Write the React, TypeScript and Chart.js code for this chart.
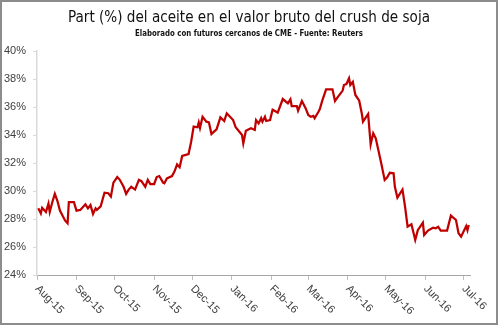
import React, { useEffect, useRef } from "react";
import { Chart, registerables } from "chart.js";

Chart.register(...registerables);

const titleText = "Part (%) del aceite en el valor bruto del crush de soja";
const subtitleText = "Elaborado con futuros cercanos de CME - Fuente: Reuters";

// Month tick labels and their day offsets from 1 Aug 2015
const monthLabels = ["Aug-15", "Sep-15", "Oct-15", "Nov-15", "Dec-15", "Jan-16", "Feb-16", "Mar-16", "Apr-16", "May-16", "Jun-16", "Jul-16"];
const monthDays = [0, 31, 61, 92, 122, 153, 184, 213, 244, 274, 305, 335];

// Y-axis ticks (%)
const yTicks = [24, 26, 28, 30, 32, 34, 36, 38, 40];

// Series: day offset from 1 Aug 2015, and oil share (%) of the crush value
const days = [
  1, 3, 4, 6, 7, 9, 10, 12, 14, 16, 18, 22, 24, 25, 29, 31, 34, 38, 40, 42,
  44, 46, 47, 50, 53, 56, 58, 60, 63, 65, 68, 70, 72, 74, 77, 80, 82, 85, 87, 89,
  92, 94, 96, 99, 100, 102, 106, 108, 110, 112, 114, 119, 121, 123, 126, 127, 128, 130, 133, 135,
  137, 139, 141, 144, 147, 149, 154, 156, 161, 162, 164, 168, 171, 172, 174, 176, 177, 179, 180, 183,
  185, 189, 193, 197, 199, 200, 204, 205, 208, 211, 213, 215, 217, 218, 221, 222, 224, 227, 230, 232,
  234, 236, 240, 241, 243, 245, 246, 248, 250, 253, 255, 256, 260, 262, 264, 266, 270, 273, 275, 277,
  280, 281, 283, 287, 289, 291, 294, 297, 299, 303, 304, 307, 311, 313, 315, 317, 322, 325, 329, 331,
  333, 337, 338, 339,
];
const shares = [
  28.76, 28.4, 28.8, 28.6, 28.5, 29.1, 28.5, 29.2, 29.8, 29.3, 28.6, 27.9, 27.7, 29.2, 29.2, 28.6, 28.65, 29.05, 28.76, 29.0,
  28.36, 28.76, 28.65, 28.9, 29.88, 29.84, 29.6, 30.6, 31.0, 30.8, 30.3, 29.8, 30.1, 30.3, 30.1, 30.8, 30.7, 30.3, 30.8, 30.5,
  30.5, 31.0, 31.07, 30.6, 30.55, 30.9, 31.07, 31.4, 31.9, 31.7, 32.5, 32.64, 33.5, 34.6, 34.55, 34.9, 34.5, 35.3, 34.95, 34.9,
  34.07, 34.24, 34.4, 35.26, 35.0, 35.55, 35.07, 34.55, 34.0, 33.4, 34.3, 34.48, 34.36, 35.07, 34.83, 35.2, 34.95, 35.3, 35.0, 35.07,
  35.8, 35.6, 36.57, 36.26, 36.55, 36.07, 36.07, 35.74, 36.43, 35.9, 35.43, 35.3, 35.36, 35.2, 35.66, 35.83, 36.45, 37.26, 37.26, 37.26,
  36.43, 36.69, 37.17, 37.57, 37.64, 38.05, 37.57, 37.8, 36.86, 36.45, 35.55, 34.95, 35.5, 33.33, 34.12, 33.76, 32.1, 30.79, 30.98, 31.3,
  31.26, 30.3, 29.52, 30.1, 28.88, 27.45, 27.62, 26.5, 27.2, 27.74, 26.86, 27.17, 27.38, 27.33, 27.45, 27.17, 27.17, 28.24, 27.93, 26.98,
  26.74, 27.5, 27.2, 27.57,
];

const NARROW = "'Liberation Sans Narrow', 'Arial Narrow', 'DejaVu Sans Condensed', sans-serif";
const BASE = "'Liberation Sans', Arial, sans-serif";

function fitText(ctx: CanvasRenderingContext2D, text: string, cx: number, y: number, targetWidth: number) {
  const w = ctx.measureText(text).width;
  const sx = Math.min(1, targetWidth / w);
  ctx.save();
  ctx.translate(cx, y);
  ctx.scale(sx, 1);
  ctx.fillText(text, 0, 0);
  ctx.restore();
}

export default function App() {
  const ref = useRef<HTMLCanvasElement>(null);

  useEffect(() => {
    document.body.style.margin = "0";
    const canvas = ref.current;
    if (!canvas) return;

    const headerPlugin = {
      id: "header",
      afterDraw(chart: any) {
        const ctx = chart.ctx;
        ctx.save();
        ctx.textAlign = "center";
        ctx.textBaseline = "alphabetic";
        ctx.fillStyle = "#111111";
        ctx.font = `15.5px ${NARROW}`;
        fitText(ctx, titleText, chart.width / 2, 22, 362);
        ctx.font = `bold 9.5px ${NARROW}`;
        fitText(ctx, subtitleText, chart.width / 2, 36, 228);
        ctx.restore();
      },
    };

    const xLabelsPlugin = {
      id: "xLabels",
      afterDraw(chart: any) {
        const ctx = chart.ctx;
        const sx = chart.scales.x;
        ctx.save();
        ctx.font = `11px ${BASE}`;
        ctx.fillStyle = "#404040";
        ctx.textAlign = "left";
        ctx.textBaseline = "middle";
        monthDays.forEach((d, i) => {
          const px = sx.getPixelForValue(d);
          ctx.save();
          ctx.translate(px, sx.top + 12);
          ctx.rotate(Math.PI / 4);
          ctx.fillText(monthLabels[i], 0, 0);
          ctx.restore();
        });
        ctx.restore();
      },
    };

    const framePlugin = {
      id: "frame",
      afterDraw(chart: any) {
        const ctx = chart.ctx;
        ctx.save();
        ctx.strokeStyle = "#8c8c8c";
        ctx.lineWidth = 2;
        ctx.strokeRect(1, 1, chart.width - 2, chart.height - 2);
        ctx.restore();
      },
    };

    const chart = new Chart(canvas, {
      type: "line",
      data: {
        datasets: [
          {
            label: "Part (%) aceite",
            data: days.map((d, i) => ({ x: d, y: shares[i] })),
            borderColor: "#c00000",
            backgroundColor: "#c00000",
            borderWidth: 2.25,
            pointRadius: 0,
            tension: 0,
            fill: false,
          },
        ],
      },
      options: {
        responsive: false,
        animation: false,
        layout: { padding: { top: 51, right: 28, bottom: 0, left: 0 } },
        plugins: {
          legend: { display: false },
          tooltip: { enabled: false },
          title: { display: false },
        },
        scales: {
          x: {
            type: "linear",
            min: 0,
            max: 340,
            afterBuildTicks: (s: any) => {
              s.ticks = monthDays.map((v) => ({ value: v }));
            },
            afterFit: (s: any) => {
              s.height = 50;
            },
            ticks: { display: false },
            grid: { drawOnChartArea: false, drawTicks: true, tickLength: 5, color: "#bfbfbf" },
            border: { color: "#a6a6a6", width: 1 },
          },
          y: {
            min: 24,
            max: 40,
            afterBuildTicks: (s: any) => {
              s.ticks = yTicks.map((v) => ({ value: v }));
            },
            afterFit: (s: any) => {
              s.width = 37;
            },
            ticks: {
              callback: (v: any) => `${v}%`,
              padding: 7,
              color: "#404040",
              font: { family: BASE, size: 11 },
            },
            grid: { drawOnChartArea: false, drawTicks: true, tickLength: 4, color: "#d9d9d9" },
            border: { color: "#d9d9d9", width: 1.5 },
          },
        },
      },
      plugins: [headerPlugin, xLabelsPlugin, framePlugin],
    });

    return () => chart.destroy();
  }, []);

  return <canvas ref={ref} width={498} height={325} style={{ display: "block" }} />;
}
